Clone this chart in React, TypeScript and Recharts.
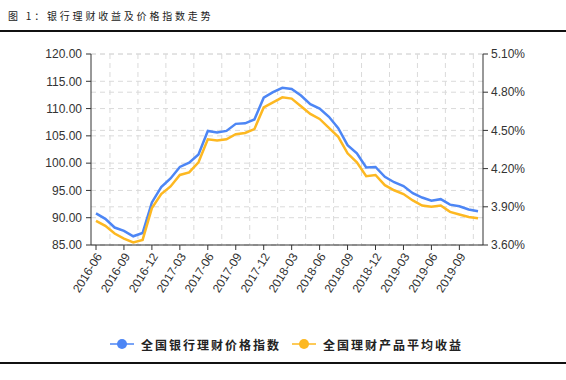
import React from "react";
import {
  LineChart,
  Line,
  XAxis,
  YAxis,
  CartesianGrid,
} from "recharts";

const months = [
  "2016-06", "2016-07", "2016-08", "2016-09", "2016-10", "2016-11", "2016-12",
  "2017-01", "2017-02", "2017-03", "2017-04", "2017-05", "2017-06", "2017-07",
  "2017-08", "2017-09", "2017-10", "2017-11", "2017-12", "2018-01", "2018-02",
  "2018-03", "2018-04", "2018-05", "2018-06", "2018-07", "2018-08", "2018-09",
  "2018-10", "2018-11", "2018-12", "2019-01", "2019-02", "2019-03", "2019-04",
  "2019-05", "2019-06", "2019-07", "2019-08", "2019-09", "2019-10", "2019-11",
];

// 全国银行理财价格指数 (left axis)
const priceIndex = [
  90.8, 89.8, 88.2, 87.6, 86.6, 87.2, 92.8, 95.6, 97.2, 99.3, 100.1, 101.6,
  105.9, 105.6, 105.9, 107.2, 107.3, 108.0, 112.0, 113.0, 113.8, 113.6, 112.4,
  110.8, 110.0, 108.5, 106.4, 103.3, 101.8, 99.2, 99.3, 97.5, 96.5, 95.8, 94.5,
  93.7, 93.1, 93.4, 92.4, 92.1, 91.5, 91.2,
];

// 全国理财产品平均收益 (right axis, %)
const avgYield = [
  3.79, 3.75, 3.69, 3.65, 3.62, 3.64, 3.89, 4.0, 4.06, 4.15, 4.17, 4.25, 4.43,
  4.42, 4.43, 4.47, 4.48, 4.51, 4.68, 4.72, 4.76, 4.75, 4.69, 4.63, 4.59, 4.52,
  4.45, 4.32, 4.25, 4.14, 4.15, 4.07, 4.03, 4.0, 3.95, 3.91, 3.9, 3.91, 3.86,
  3.84, 3.82, 3.81,
];

const leftTicks = [85, 90, 95, 100, 105, 110, 115, 120];
const rightTicks = [3.6, 3.9, 4.2, 4.5, 4.8, 5.1];

const series = [
  { key: "price", name: "全国银行理财价格指数", color: "#4d86f5" },
  { key: "yield", name: "全国理财产品平均收益", color: "#fdb821" },
];

const data = months.map((m, i) => ({
  month: m,
  price: priceIndex[i],
  yield: avgYield[i],
}));

const X_PAD = 5;

function XTick({ x, y, payload }: any) {
  return (
    <g transform={`translate(${x + 3},${y + 2})`}>
      <text
        x={0}
        y={0}
        dy="0.35em"
        textAnchor="end"
        fill="#333"
        fontSize={12}
        transform="rotate(-58)"
      >
        {payload.value}
      </text>
    </g>
  );
}

// dashed vertical lines sit half-way between the quarterly ticks
function verticalLines(props: any) {
  const off = props.offset;
  const step = (off.width - 2 * X_PAD) / (months.length - 1);
  const x0 = off.left + X_PAD;
  const out: number[] = [];
  for (let i = 0; i < months.length; i += 3) {
    const x = x0 + (i + 1.5) * step;
    if (x < off.left + off.width) out.push(x);
  }
  return out;
}

export default function App() {
  return (
    <div
      style={{
        position: "absolute",
        left: 0,
        top: 0,
        width: 566,
        height: 380,
        background: "#fff",
        fontFamily: "Liberation Sans",
      }}
    >
      <div
        style={{
          position: "absolute",
          left: 8,
          top: 8,
          fontFamily: "Noto Sans CJK SC",
          fontSize: 10,
          letterSpacing: 2.8,
          color: "#222",
          whiteSpace: "nowrap",
        }}
      >
        图 1：银行理财收益及价格指数走势
      </div>
      <div style={{ position: "absolute", left: 0, top: 30, width: 566, height: 1.5, background: "#111" }} />

      <div style={{ position: "absolute", left: 0, top: 0 }}>
        <LineChart
          width={566}
          height={380}
          data={data}
          margin={{ top: 54, right: 0, bottom: 0, left: 0 }}
        >
          <CartesianGrid
            yAxisId="left"
            vertical={false}
            stroke="#dadada"
            strokeDasharray="5 4"
          />
          <CartesianGrid
            yAxisId="right"
            vertical={false}
            stroke="#dadada"
            strokeDasharray="5 4"
          />
          <CartesianGrid
            horizontal={false}
            stroke="#dadada"
            strokeDasharray="5 4"
            verticalCoordinatesGenerator={verticalLines}
          />
          <XAxis
            dataKey="month"
            interval={2}
            height={135}
            padding={{ left: X_PAD, right: X_PAD }}
            stroke="#333"
            tickSize={5}
            tick={<XTick />}
          />
          <YAxis
            yAxisId="left"
            width={91}
            domain={[85, 120]}
            ticks={leftTicks}
            tickFormatter={(v: number) => v.toFixed(2)}
            stroke="#333"
            tickSize={5}
            tickMargin={4}
            tick={{ fill: "#333", fontSize: 12 }}
          />
          <YAxis
            yAxisId="right"
            orientation="right"
            width={83}
            domain={[3.6, 5.1]}
            ticks={rightTicks}
            tickFormatter={(v: number) => v.toFixed(2) + "%"}
            stroke="#333"
            tickSize={5}
            tickMargin={3}
            tick={{ fill: "#333", fontSize: 12 }}
          />
          <Line
            yAxisId="left"
            dataKey="price"
            stroke={series[0].color}
            strokeWidth={2.5}
            dot={false}
            isAnimationActive={false}
          />
          <Line
            yAxisId="right"
            dataKey="yield"
            stroke={series[1].color}
            strokeWidth={2.5}
            dot={false}
            isAnimationActive={false}
          />
        </LineChart>
      </div>

      {series.map((s, i) => (
        <div
          key={s.key}
          style={{
            position: "absolute",
            left: i === 0 ? 110 : 292,
            top: 335,
            height: 18,
            display: "flex",
            alignItems: "center",
            whiteSpace: "nowrap",
          }}
        >
          <svg width={26} height={12} style={{ marginRight: 5 }}>
            <line x1={0} y1={6} x2={24} y2={6} stroke={s.color} strokeWidth={1.5} />
            <circle cx={12} cy={6} r={5} fill={s.color} />
          </svg>
          <span
            style={{
              fontFamily: "Noto Sans CJK SC",
              fontSize: 12,
              fontWeight: 700,
              letterSpacing: 2,
              color: "#222",
            }}
          >
            {s.name}
          </span>
        </div>
      ))}
      <div style={{ position: "absolute", left: 0, top: 362, width: 566, height: 1.5, background: "#111" }} />
    </div>
  );
}
